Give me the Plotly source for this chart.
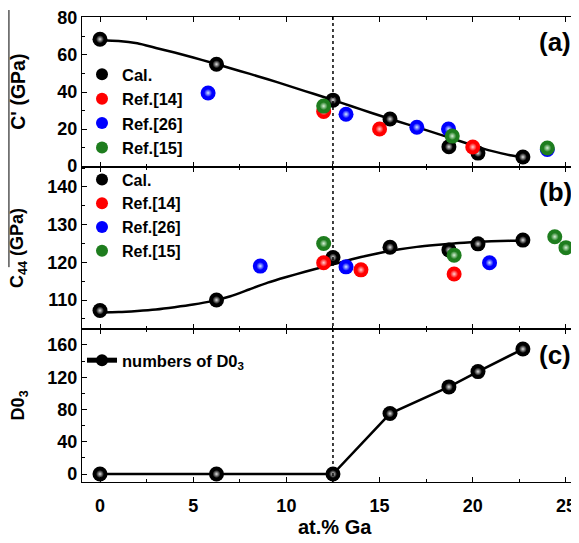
import plotly.graph_objects as go

# ---------------- data ----------------
x_cal = [0, 6.25, 12.5, 15.56, 18.72, 20.28, 22.69]
cprime_cal = [68.5, 55.0, 35.6, 25.4, 10.4, 7.0, 4.9]
c44_cal = [107.2, 110.0, 121.3, 124.0, 123.3, 124.9, 125.9]
d03_count = [0, 0, 0, 75, 108, 127, 155]

# fitted curves
fit_x = [0, 1, 2, 3, 4, 5, 6, 7, 8, 9, 10, 11, 12, 13, 14, 15, 16, 17, 18, 19, 20, 21, 22, 22.7]
cprime_fit = [68.0, 67.6, 66.3, 63.8, 61.3, 58.6, 55.8, 52.8, 49.9, 46.9, 43.7, 40.5, 37.3, 34.0,
              30.6, 27.3, 24.1, 21.0, 17.8, 14.5, 11.2, 8.2, 5.9, 5.0]
c44_fit = [106.7, 106.8, 107.1, 107.5, 108.1, 108.8, 109.7, 111.0, 112.8, 114.6, 116.1, 117.5,
           118.8, 120.1, 121.4, 122.5, 123.4, 124.1, 124.6, 125.0, 125.4, 125.6, 125.7, 125.7]

ref14_x_a = [12.0, 15.0, 20.0]
ref14_cprime = [29.5, 20.0, 10.3]
ref26_x_a = [5.8, 13.2, 17.0, 18.7, 24.0]
ref26_cprime = [39.5, 28.0, 21.0, 20.0, 9.0]
ref15_x_a = [12.0, 18.9, 24.0]
ref15_cprime = [32.4, 16.2, 9.8]

ref14_x_b = [12.0, 14.0, 19.0]
ref14_c44 = [119.9, 118.0, 116.9]
ref26_x_b = [8.6, 13.2, 20.9]
ref26_c44 = [119.0, 118.8, 119.9]
ref15_x_b = [12.0, 19.0, 24.4, 25.0]
ref15_c44 = [125.0, 121.9, 126.8, 123.9]

legend_names = ["Cal.", "Ref.[14]", "Ref.[26]", "Ref.[15]"]
colors = ["#000000", "#ff0000", "#0000ff", "#1e7d1e"]
highlight = ["#e0e0e0", "#ffd0d0", "#d0e8ff", "#d8f0d8"]

x_ticks = [0, 5, 10, 15, 20, 25]
a_ticks = [0, 20, 40, 60, 80]
b_ticks = [110, 120, 130, 140]
c_ticks = [0, 40, 80, 120, 160]

FONT = "Liberation Sans, Arial, sans-serif"
MS = 15

fig = go.Figure()


def balls(x, y, idx, xa, ya, legend, show=True, name=None, mode="markers", line=None):
    col = colors[idx]
    kw = dict(x=x, y=y, xaxis=xa, yaxis=ya, mode=mode,
              marker=dict(size=MS, color=col, line=dict(width=0)),
              name=name if name else legend_names[idx], legend=legend, showlegend=show)
    if line is not None:
        kw["line"] = line
    fig.add_trace(go.Scatter(**kw))
    # glossy highlight
    fig.add_trace(go.Scatter(x=x, y=y, xaxis=xa, yaxis=ya, mode="markers",
                             marker=dict(size=8, color=col, line=dict(width=0),
                                         gradient=dict(type="radial", color=highlight[idx])),
                             showlegend=False, hoverinfo="skip"))


# panel (a)
fig.add_trace(go.Scatter(x=fit_x, y=cprime_fit, xaxis="x", yaxis="y", mode="lines",
                         line=dict(color="black", width=2.5, shape="spline", smoothing=0.6),
                         showlegend=False))
balls(x_cal, cprime_cal, 0, "x", "y", "legend")
balls(ref14_x_a, ref14_cprime, 1, "x", "y", "legend")
balls(ref26_x_a, ref26_cprime, 2, "x", "y", "legend")
balls(ref15_x_a, ref15_cprime, 3, "x", "y", "legend")

# panel (b)
fig.add_trace(go.Scatter(x=fit_x, y=c44_fit, xaxis="x2", yaxis="y2", mode="lines",
                         line=dict(color="black", width=2.5, shape="spline", smoothing=0.6),
                         showlegend=False))
balls(x_cal, c44_cal, 0, "x2", "y2", "legend2")
balls(ref14_x_b, ref14_c44, 1, "x2", "y2", "legend2")
balls(ref26_x_b, ref26_c44, 2, "x2", "y2", "legend2")
balls(ref15_x_b, ref15_c44, 3, "x2", "y2", "legend2")

# panel (c)
balls(x_cal, d03_count, 0, "x3", "y3", "legend3", name="numbers of D0<sub>3</sub>",
      mode="lines+markers", line=dict(color="black", width=2.5))

xr = [-0.966, 25.70]
axis_common = dict(showline=True, linecolor="black", linewidth=1.2, ticks="inside", ticklen=5,
                   tickcolor="black", tickwidth=1.2, zeroline=False, showgrid=False, automargin=False,
                   tickfont=dict(family=FONT, size=18, color="black", weight="bold"))

dom_c = [0, 0.329]
dom_b = [0.329, 0.6774]
dom_a = [0.6774, 1]

for name, anchor, showlab in [("xaxis", "y", False), ("xaxis2", "y2", False), ("xaxis3", "y3", True)]:
    fig.layout[name] = dict(axis_common, range=xr, anchor=anchor, mirror="ticks",
                            tickvals=x_ticks, showticklabels=showlab, ticklabelstandoff=7,
                            minor=dict(dtick=2.5, ticklen=3, ticks="inside", tickcolor="black"))

fig.layout["yaxis"] = dict(axis_common, domain=dom_a, range=[-0.5, 80.5], anchor="x",
                           tickvals=a_ticks, minor=dict(dtick=10, ticklen=3, ticks="inside", tickcolor="black"))
fig.layout["yaxis2"] = dict(axis_common, domain=dom_b, range=[102.3, 145.3], anchor="x2",
                            tickvals=b_ticks, minor=dict(tick0=100, dtick=5, ticklen=3, ticks="inside", tickcolor="black"))
fig.layout["yaxis3"] = dict(axis_common, domain=dom_c, range=[-9.9, 179.8], anchor="x3",
                            tickvals=c_ticks, minor=dict(dtick=20, ticklen=3, ticks="inside", tickcolor="black"))

leg_font_a = dict(family=FONT, size=16.5, color="black", weight="bold")
leg_font_b = dict(family=FONT, size=16, color="black", weight="bold")
# the page body adds an 8px margin, so the figure is 8px smaller and the margins compensate
fig.update_layout(
    width=571, height=535,
    margin=dict(l=74, r=0, t=9, b=61, autoexpand=False),
    paper_bgcolor="white", plot_bgcolor="white",
    showlegend=True,
    legend=dict(x=0.0, y=0.914, xanchor="left", yanchor="top", font=leg_font_a,
                bgcolor="rgba(0,0,0,0)", itemsizing="constant", tracegroupgap=0),
    legend2=dict(x=0.0, y=0.687, xanchor="left", yanchor="top", font=leg_font_b,
                 bgcolor="rgba(0,0,0,0)", itemsizing="constant", tracegroupgap=0),
    legend3=dict(x=0.0, y=0.299, xanchor="left", yanchor="top",
                 font=dict(family=FONT, size=16.5, color="black", weight="bold"),
                 bgcolor="rgba(0,0,0,0)", itemsizing="constant", tracegroupgap=0),
)

# dotted vertical line at 12.5 at.%
fig.add_shape(type="line", xref="x", yref="paper", x0=12.5, x1=12.5, y0=0, y1=1,
              line=dict(color="black", width=1.5, dash="dot"))
# overline artifact of the axis titles
fig.add_shape(type="line", xref="paper", yref="paper", x0=-0.147, x1=-0.147, y0=0.462, y1=1.015,
              line=dict(color="black", width=1))

ann_font = dict(family=FONT, size=18, color="black", weight="bold")
common_ann = dict(xref="paper", yref="paper", showarrow=False, xanchor="center", yanchor="middle")
fig.add_annotation(text="C' (GPa)", x=-0.129, y=0.839, textangle=-90,
                   font=dict(family=FONT, size=19.5, color="black", weight="bold"), **common_ann)
fig.add_annotation(text="C<sub>44</sub> (GPa)", x=-0.129, y=0.503, textangle=-90, font=ann_font, **common_ann)
fig.add_annotation(text="D0<sub>3</sub>", x=-0.125, y=0.1645, textangle=-90, font=ann_font, **common_ann)
lab_font = dict(family=FONT, size=26, color="black", weight="bold")
for t, yy in [("(a)", 0.946), ("(b)", 0.624), ("(c)", 0.273)]:
    fig.add_annotation(text=t, x=0.952, y=yy, font=lab_font, **common_ann)
fig.add_annotation(text="at.% Ga", x=0.509, y=-0.097,
                   font=dict(family=FONT, size=20, color="black", weight="bold"), **common_ann)

fig.write_html("out.html")
